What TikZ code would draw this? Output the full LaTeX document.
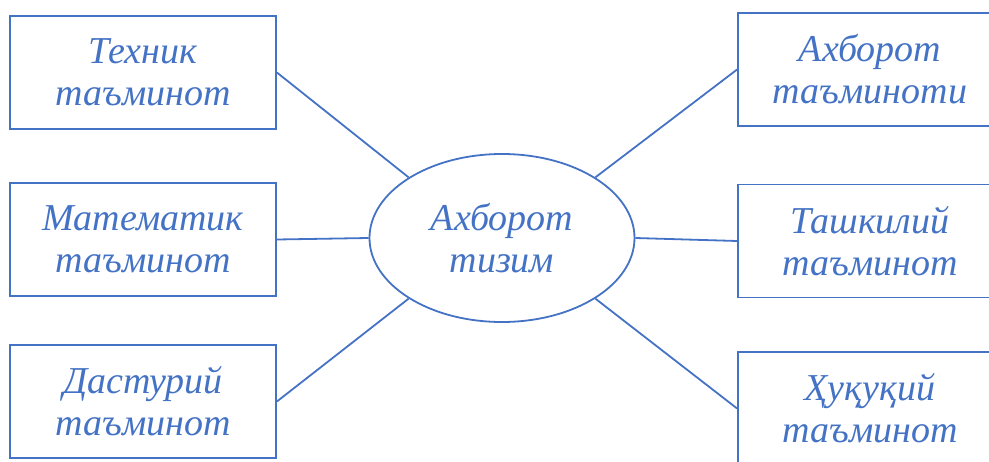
\documentclass[tikz,border=0pt]{standalone}
\usepackage{fontspec}
\setmainfont{Liberation Serif}
\usetikzlibrary{shapes.geometric}
\definecolor{ofblue}{HTML}{4472C4}
\tikzset{
	box/.style={draw=ofblue, line width=1.8pt, rectangle, minimum width=266pt, minimum height=113pt, align=center, text=ofblue, font=\fontsize{38}{42}\selectfont\itshape},
	rbox/.style={box, minimum width=264pt},
	link/.style={draw=ofblue, line width=1.8pt},
}

\begin{document}
\begin{tikzpicture}[x=1pt, y=-1pt]
\useasboundingbox (0,0) rectangle (989,461);
\node[draw=ofblue, line width=1.8pt, ellipse, minimum width=265pt, minimum height=168pt, align=center, text=ofblue, font=\fontsize{38}{42}\selectfont\itshape] (tiz) at (502,238) {Ахборот\\тизим};
% left side
\node[box] (tex) at (143,72.5) {Техник\\таъминот};
\node[box] (mat) at (143,239.5) {Математик\\таъминот};
\node[box] (das) at (143,401.5) {Дастурий\\таъминот};
% right side
\node[rbox] (axb) at (870,69.5) {Ахборот\\таъминоти};
\node[rbox] (tash) at (870,241) {Ташкилий\\таъминот};
\node[rbox] (huq) at (870,408.5) {Ҳуқуқий\\таъминот};
\draw[link] (tex.east) -- (tiz.147);
\draw[link] (mat.east) -- (tiz.west);
\draw[link] (das.east) -- (tiz.213);
\draw[link] (axb.west) -- (tiz.33);
\draw[link] (tash.west) -- (tiz.east);
\draw[link] (huq.west) -- (tiz.-33);
\end{tikzpicture}
\end{document}
